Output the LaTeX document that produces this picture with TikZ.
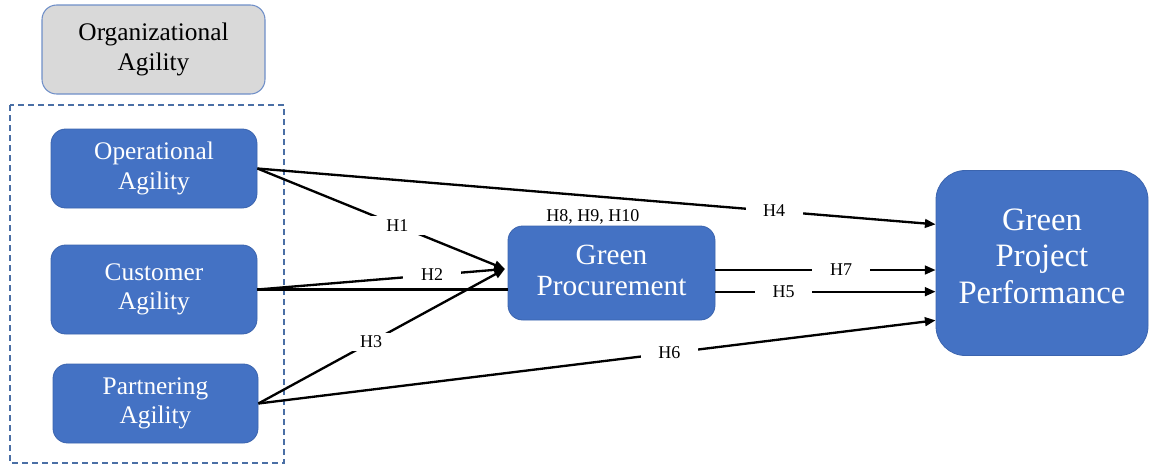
\documentclass[tikz,border=0pt]{standalone}
\usepackage{fontspec}
\setmainfont{Liberation Serif}
\usetikzlibrary{arrows.meta,calc}
\definecolor{boxblue}{HTML}{4472C4}
\definecolor{boxedge}{HTML}{3B64AE}
\definecolor{boxgray}{HTML}{D9D9D9}
\definecolor{grayedge}{HTML}{6F8FC8}
\definecolor{dashblue}{HTML}{4A6FA5}
\tikzset{
  bluebox/.style={draw=boxedge, line width=0.6pt, fill=boxblue, text=white, rounded corners=11pt, align=center, inner sep=0pt,
    font=\fontsize{19}{22}\selectfont},
  graybox/.style={draw=grayedge, line width=0.8pt, fill=boxgray, text=black, rounded corners=11pt, align=center, inner sep=0pt,
    font=\fontsize{19}{22}\selectfont},
  conn/.style={line width=1.75pt, black},
  arr/.style={conn, -{Triangle[length=8pt,width=6.5pt]}},
  hlab/.style={fill=white, inner sep=0pt, minimum width=43pt, minimum height=14pt, font=\fontsize{13.5}{15}\selectfont, text=black},
}
\begin{document}
\begin{tikzpicture}[x=0.75pt,y=-0.75pt]
\useasboundingbox (0,0) rectangle (1149,465);
% dashed group
\draw[dashblue, dashed, line width=0.9pt, dash pattern=on 4.5pt off 3pt] (10,105) rectangle (284,463);
% nodes
\node[graybox, minimum width=223*0.75pt, minimum height=89*0.75pt] (org) at (153.5,49.5) {Organizational\\Agility};
\node[bluebox, minimum width=206*0.75pt, minimum height=79*0.75pt] (op) at (154,168.5) {Operational\\Agility};
\node[bluebox, minimum width=206*0.75pt, minimum height=89*0.75pt] (cu) at (154,289.5) {Customer\\Agility};
\node[bluebox, minimum width=205*0.75pt, minimum height=79*0.75pt] (pa) at (155.5,403.5) {Partnering\\Agility};
\node[bluebox, minimum width=207*0.75pt, minimum height=94*0.75pt, font=\fontsize{22}{23}\selectfont] (gp) at (611.5,273) {};
\node[text=white, align=center, inner sep=0pt, font=\fontsize{22}{23}\selectfont] (gptxt) at ([yshift=2pt]gp.center) {Green\\Procurement};
\node[bluebox, minimum width=212*0.75pt, minimum height=185*0.75pt, rounded corners=22pt] (gpp) at (1042,263) {};
\node[text=white, align=center, inner sep=0pt, font=\fontsize{24.5}{27.5}\selectfont] (gpptxt) at ([yshift=5pt]gpp.center) {Green\\Project\\Performance};
% coordinates
\coordinate (gpin) at ([xshift=-2pt,yshift=3pt]gp.west);
% connectors to green procurement
\draw[arr] (op.east) -- node[hlab, pos=0.565] {H1} (gpin);
\draw[arr] (cu.east) -- node[hlab, pos=0.706] {H2} (gpin);
\draw[arr] (pa.east) -- node[hlab, pos=0.457] {H3} (gpin);
\draw[conn] (cu.east) -- (cu.east -| gp.west);
% connectors to green project performance
\draw[arr] (op.east) -- node[hlab, pos=0.762] {H4} ([yshift=29pt]gpp.west);
\draw[arr] (pa.east) -- node[hlab, pos=0.607] {H6} ([yshift=-43pt]gpp.west);
\draw[arr] ([yshift=2.25pt]gp.east) -- node[hlab, pos=0.571] {H7} ([yshift=2.25pt]gp.east -| gpp.west);
\draw[arr] ([yshift=-14pt]gp.east) -- node[hlab, pos=0.31] {H5} ([yshift=-14pt]gp.east -| gpp.west);
% label above green procurement
\node[anchor=south, inner sep=1pt, font=\fontsize{13.5}{15}\selectfont] (hmed) at ([xshift=-14pt]gp.north) {H8, H9, H10};
\end{tikzpicture}
\end{document}
